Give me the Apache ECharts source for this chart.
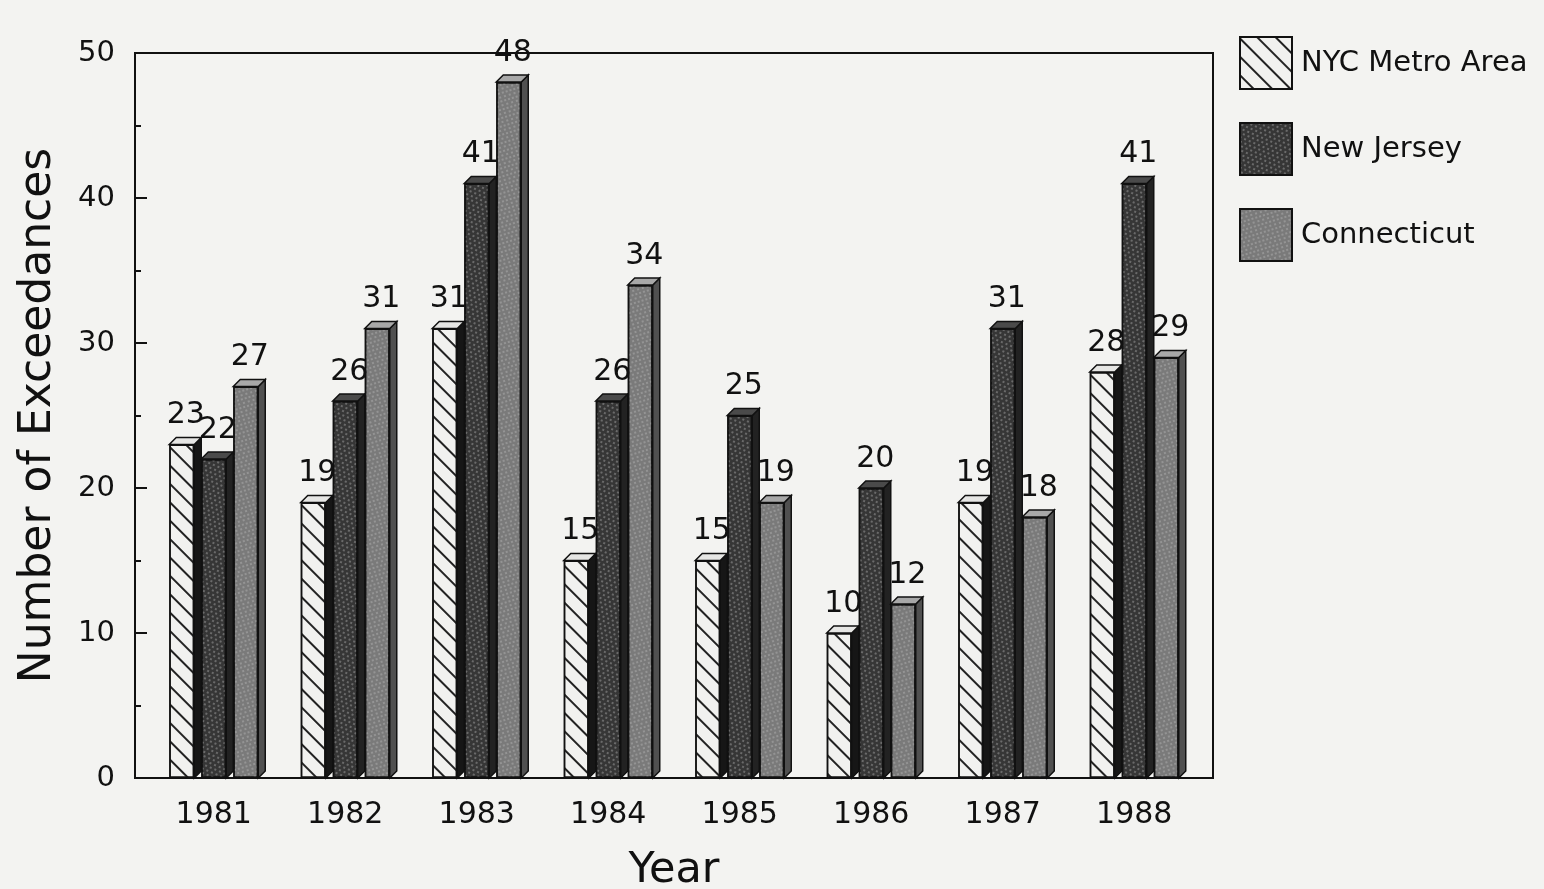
<!DOCTYPE html>
<html>
<head>
<meta charset="utf-8">
<script src="https://cdn.jsdelivr.net/npm/echarts@6/dist/echarts.min.js"></script>
<style>
    html, body { margin: 0; padding: 0; background: #f3f3f1; }
    #chart { width: 1544px; height: 889px; }
</style>
</head>
<body>
<div id="chart"></div>
<script>
// data
var years = ['1981', '1982', '1983', '1984', '1985', '1986', '1987', '1988'];
var nycMetro = [23, 19, 31, 15, 15, 10, 19, 28];
var newJersey = [22, 26, 41, 26, 25, 20, 31, 41];
var connecticut = [27, 31, 48, 34, 19, 12, 18, 29];
var seriesNames = ['NYC Metro Area', 'New Jersey', 'Connecticut'];
var yTicks = [0, 10, 20, 30, 40, 50];

var FONT = 'DejaVu Sans';
var BAR_W = 25;
var DEPTH = 7;
var GAP = 7;

var fronts = ['#f1f1ef', '#363636', '#7a7a7a'];
var tops = ['#e6e6e4', '#4a4a4a', '#a8a8a8'];
var sides = ['#161616', '#222222', '#505050'];
var decals = [
    { symbol: 'rect', symbolSize: 1, dashArrayX: [1, 0], dashArrayY: [2, 11], rotation: Math.PI / 4, color: '#222' },
    { symbol: 'rect', symbolSize: 0.8, dashArrayX: [[2, 3], [0, 2, 2, 1]], dashArrayY: [2, 2], rotation: 0.4, color: 'rgba(215,215,215,0.55)' },
    { symbol: 'rect', symbolSize: 0.8, dashArrayX: [[2, 2], [0, 3, 2, 0]], dashArrayY: [2, 2], rotation: -0.3, color: 'rgba(220,220,220,0.45)' }
];

var chart = echarts.init(document.getElementById('chart'));

function frontSeries(k, data) {
    return {
        name: seriesNames[k],
        type: 'bar',
        xAxisIndex: 1,
        yAxisIndex: 1,
        data: data,
        barWidth: BAR_W,
        barGap: (GAP / BAR_W * 100) + '%',
        z: 3,
        itemStyle: {
            color: fronts[k],
            borderColor: '#111',
            borderWidth: 1.5,
            decal: decals[k]
        },
        label: {
            show: true,
            position: 'top',
            distance: 10,
            offset: [4, -4],
            fontFamily: FONT,
            fontSize: 30,
            color: '#111'
        }
    };
}

// top and side faces of the pseudo-3D bars
function depthSeries(k, data) {
    return {
        type: 'custom',
        xAxisIndex: 1,
        yAxisIndex: 1,
        z: 2,
        silent: true,
        data: data.map(function (v, i) { return [i, v]; }),
        renderItem: function (params, api) {
            var top = api.coord([api.value(0), api.value(1)]);
            var base = api.coord([api.value(0), 0]);
            var cx = top[0] + (k - 1) * (BAR_W + GAP);
            var l = cx - BAR_W / 2, r = cx + BAR_W / 2;
            var t = top[1], b = base[1];
            var line = { stroke: '#111', lineWidth: 1.5 };
            return {
                type: 'group',
                children: [
                    {
                        type: 'polygon',
                        shape: { points: [[r, t], [r + DEPTH, t - DEPTH], [r + DEPTH, b - DEPTH], [r, b]] },
                        style: Object.assign({ fill: sides[k] }, line)
                    },
                    {
                        type: 'polygon',
                        shape: { points: [[l, t], [l + DEPTH, t - DEPTH], [r + DEPTH, t - DEPTH], [r, t]] },
                        style: Object.assign({ fill: tops[k] }, line)
                    }
                ]
            };
        }
    };
}

chart.setOption({
    backgroundColor: '#f3f3f1',
    animation: false,
    legend: {
        orient: 'vertical',
        left: 1234,
        top: 31,
        itemWidth: 52,
        itemHeight: 52,
        itemGap: 32,
        icon: 'rect',
        data: seriesNames,
        textStyle: { fontFamily: FONT, fontSize: 29, color: '#111', padding: [0, 0, 0, 4] }
    },
    grid: [
        // frame with the y scale
        { left: 135, right: 331, top: 53, bottom: 111, outerBoundsMode: 'none', show: true, borderColor: '#111', borderWidth: 2, backgroundColor: 'transparent' },
        // bars
        { left: 148, right: 344, top: 53, bottom: 111, outerBoundsMode: 'none' }
    ],
    xAxis: [
        { type: 'value', gridIndex: 0, show: false, min: 0, max: 1 },
        {
            type: 'category',
            gridIndex: 1,
            data: years,
            axisLine: { show: false },
            axisTick: { show: false },
            axisLabel: { margin: 22, fontFamily: FONT, fontSize: 30, color: '#111' },
            name: 'Year',
            nameLocation: 'middle',
            nameGap: 71,
            nameTextStyle: { fontFamily: FONT, fontSize: 43, color: '#111', verticalAlign: 'top' }
        }
    ],
    yAxis: [
        {
            type: 'value',
            gridIndex: 0,
            position: 'left',
            min: yTicks[0],
            max: yTicks[yTicks.length - 1],
            interval: 10,
            axisLine: { show: true, lineStyle: { color: '#111', width: 2 } },
            axisTick: { show: true, inside: true, length: 12, lineStyle: { color: '#111', width: 2 } },
            minorTick: { show: true, splitNumber: 2, length: 6, lineStyle: { color: '#111', width: 2 } },
            splitLine: { show: false },
            axisLabel: { margin: 20, fontFamily: FONT, fontSize: 29, color: '#111' },
            name: 'Number of Exceedances',
            nameLocation: 'middle',
            nameGap: 74,
            nameTextStyle: { fontFamily: FONT, fontSize: 44, color: '#111' }
        },
        { type: 'value', gridIndex: 1, show: false, min: 0, max: 50 }
    ],
    series: [
        frontSeries(0, nycMetro),
        frontSeries(1, newJersey),
        frontSeries(2, connecticut),
        depthSeries(0, nycMetro),
        depthSeries(1, newJersey),
        depthSeries(2, connecticut)
    ]
});
</script>
</body>
</html>
